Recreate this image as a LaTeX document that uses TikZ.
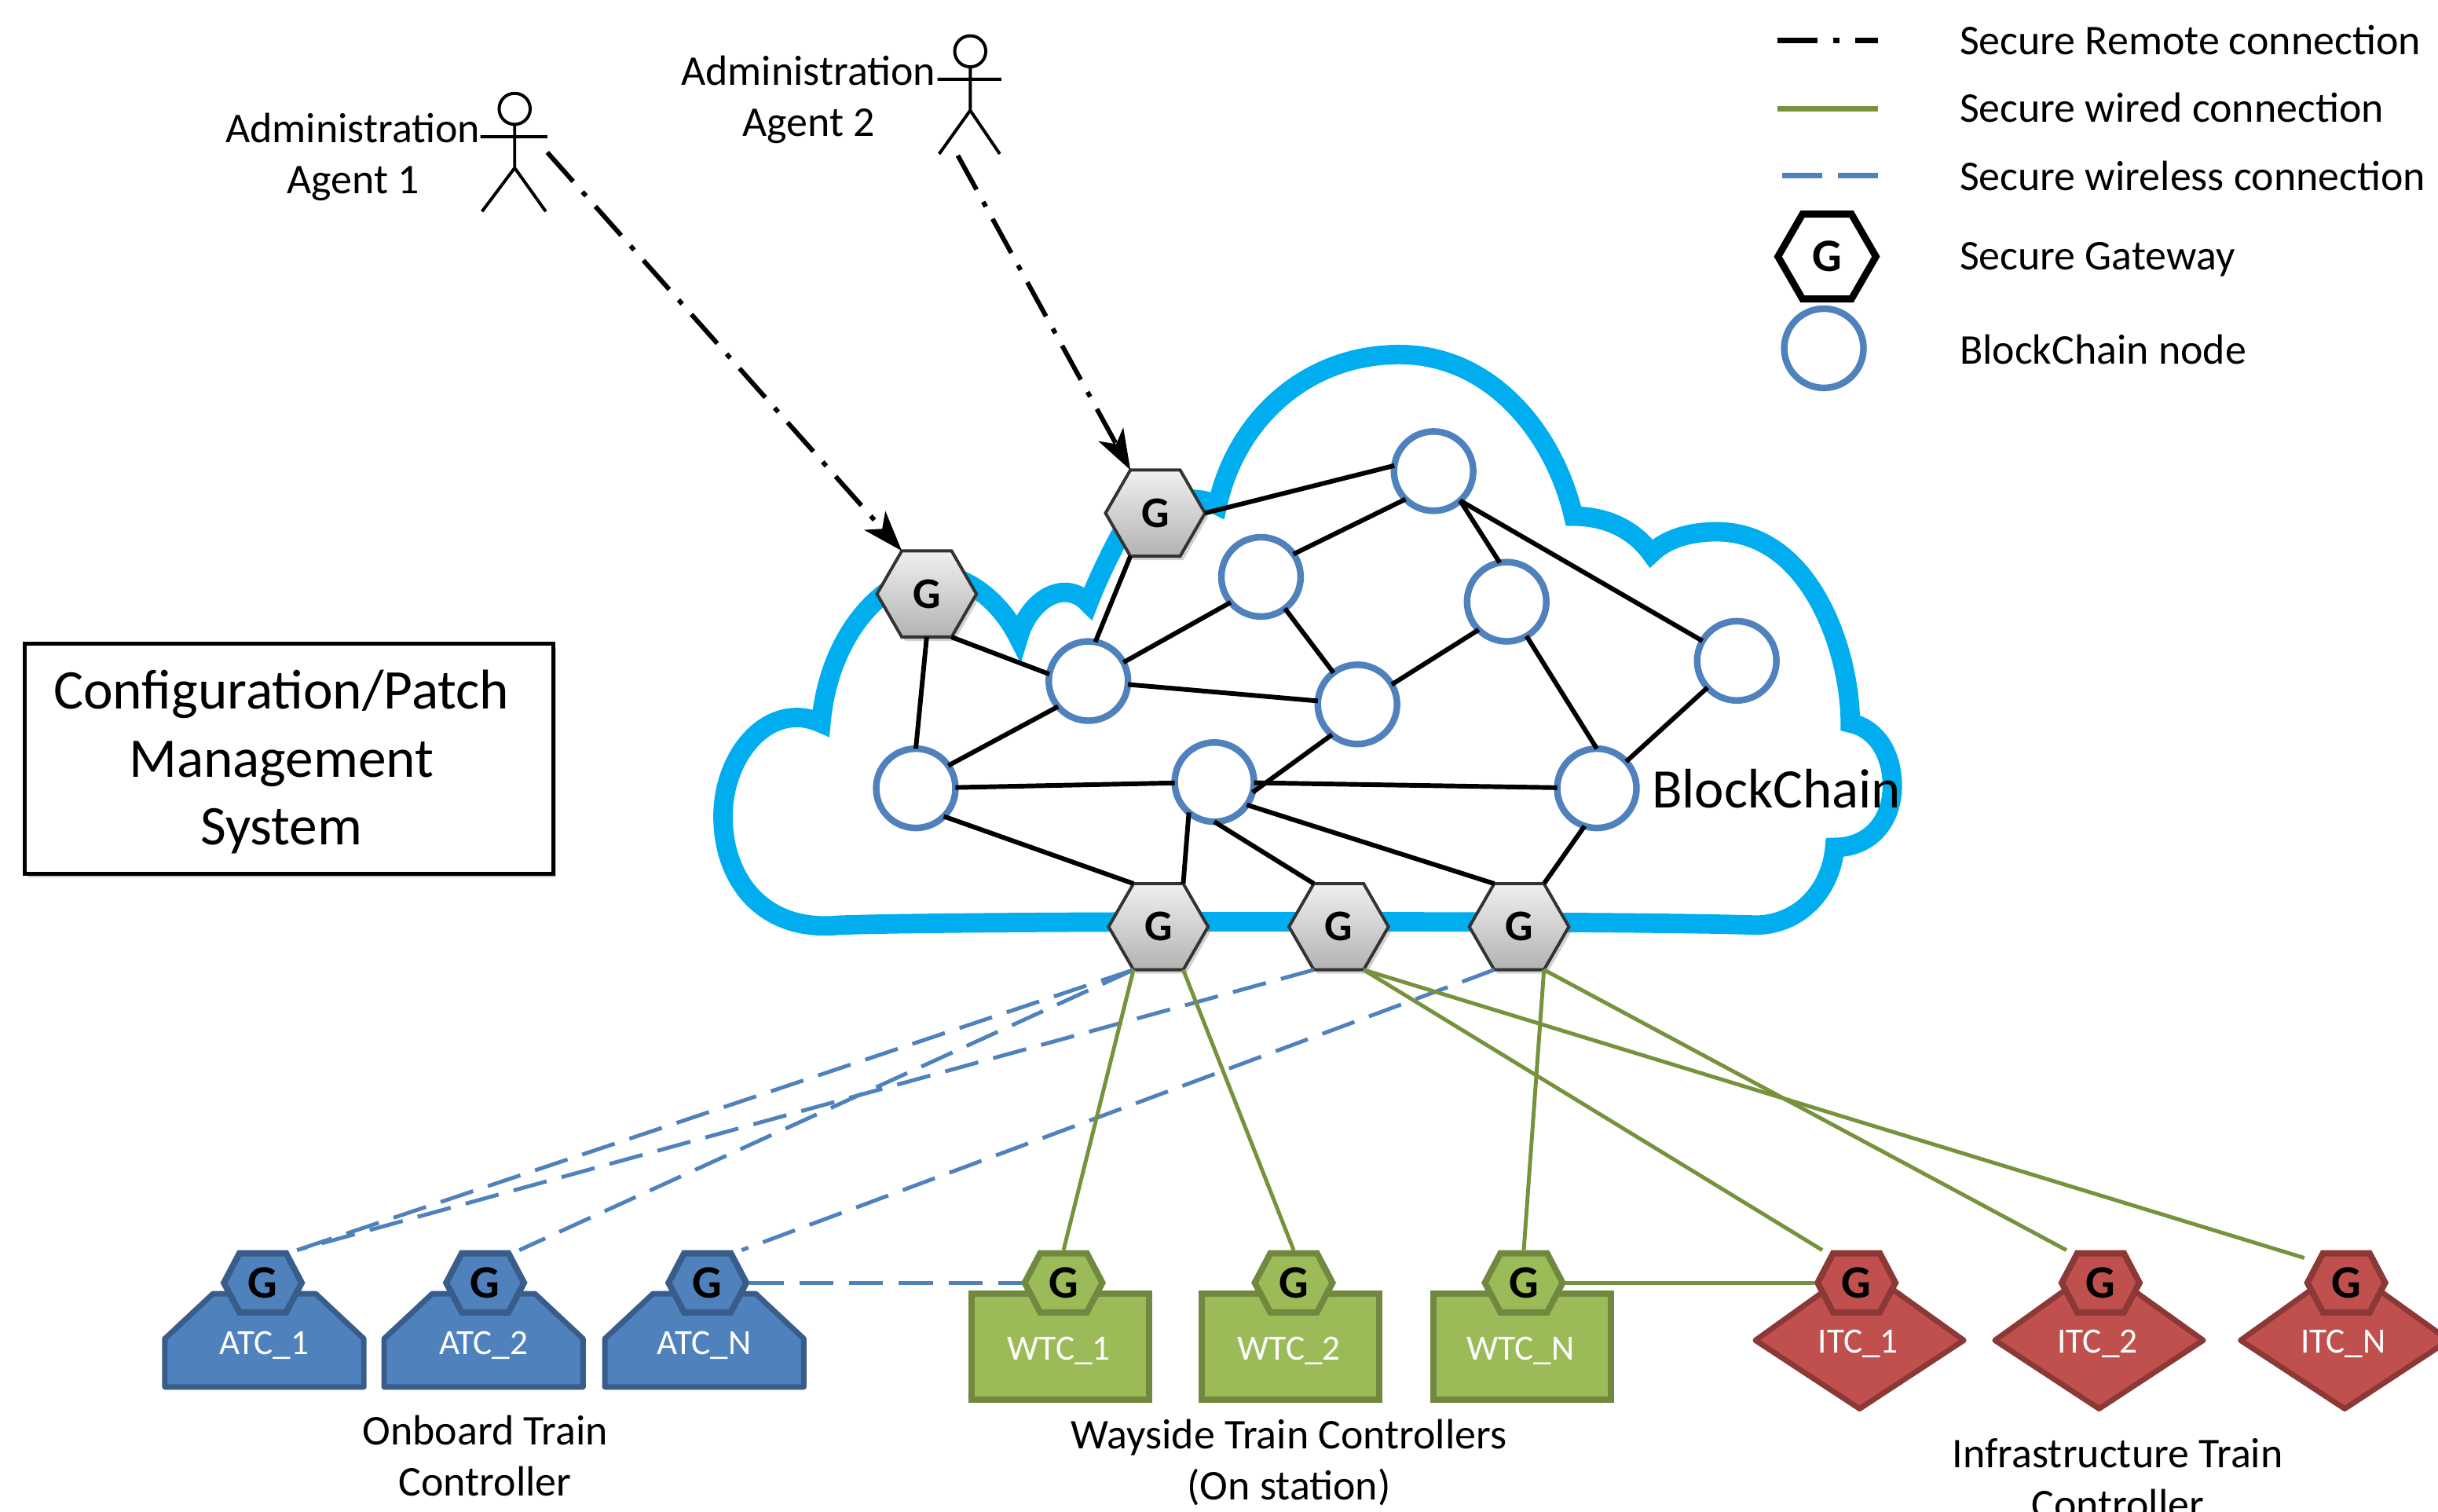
\documentclass[tikz,border=0pt]{standalone}
\usepackage{fontspec}
\setmainfont{Carlito}
\usetikzlibrary{shapes.geometric,shadows,arrows.meta}
\definecolor{cloudblue}{HTML}{00AEEF}
\definecolor{bnblue}{HTML}{4F81BD}
\definecolor{atcdark}{HTML}{385D8A}
\definecolor{wgreen}{HTML}{9BBB59}
\definecolor{wdark}{HTML}{71893F}
\definecolor{wire}{HTML}{76923C}
\definecolor{ired}{HTML}{C0504D}
\definecolor{idark}{HTML}{8C3836}
\tikzset{
  px/.style={x=0.02cm,y=-0.02cm},
  cloudline/.style={draw=cloudblue,line width=0.25cm,miter limit=6},
  bnode/.style={circle,draw=bnblue,fill=white,line width=0.085cm,minimum size=1.02cm,inner sep=0pt,outer sep=0pt},
  hexshape/.style={regular polygon,regular polygon sides=6,minimum size=1.28cm,inner sep=0pt,outer sep=0pt},
  gway/.style={hexshape,draw=black!80,line width=0.04cm,top color=black!6,bottom color=black!30,
     font=\fontsize{16}{18}\selectfont\bfseries,drop shadow={shadow xshift=0.04cm,shadow yshift=-0.05cm,opacity=0.35}},
  legendgate/.style={hexshape,draw=black,line width=0.09cm,fill=white,minimum size=1.26cm,font=\fontsize{17}{19}\selectfont\bfseries},
  edge/.style={draw=black,line width=0.06cm},
  remote/.style={draw=black,line width=0.06cm,dash pattern=on 0.5cm off 0.18cm on 0.07cm off 0.18cm,-{Stealth[length=0.52cm,width=0.36cm,inset=0.14cm]}},
  wireless/.style={draw=bnblue,line width=0.05cm,dash pattern=on 0.44cm off 0.2cm},
  wired/.style={draw=wire,line width=0.05cm},
  txt/.style={font=\fontsize{15.5}{18.7}\selectfont,align=center,inner sep=0pt},
  legtxt/.style={txt,anchor=west},
  actor/.style={draw=black,line width=0.04cm},
  headc/.style={circle,draw=black,line width=0.04cm,minimum size=0.4cm,inner sep=0pt,outer sep=0pt},
  unitlabel/.style={font=\fontsize{13}{15}\selectfont,text=white,inner sep=0pt},
  cfgbox/.style={rectangle,draw=black,line width=0.05cm,fill=white,minimum width=6.8cm,minimum height=2.96cm,inner sep=0pt,
     drop shadow={shadow xshift=0.03cm,shadow yshift=-0.05cm,opacity=0.4}},
}
% small gateway: name, x, y, fill, stroke
\newcommand{\smallgate}[5]{%
  \draw[fill=#4,draw=#5,line width=0.08cm,line join=miter]
    (#2-25,#3) -- (#2-15,#3-19) -- (#2+15,#3-19) -- (#2+25,#3) -- (#2+15,#3+19) -- (#2-15,#3+19) -- cycle;
  \node[font=\fontsize{17}{19}\selectfont\bfseries,minimum width=1.08cm,minimum height=0.84cm,inner sep=0pt,outer sep=0pt] (#1) at (#2,#3) {G};
}
\newcommand{\atcbody}[3]{% name x-centre label
  \draw[fill=bnblue,draw=atcdark,line width=0.07cm,line join=round]
    (#2-64,892) -- (#2+64,892) -- (#2+64,861) -- (#2+33,832) -- (#2-33,832) -- (#2-64,861) -- cycle;
  \node[unitlabel] (#1) at (#2,865) {#3};
}
\newcommand{\wtcbody}[3]{% name x-centre label
  \draw[fill=wgreen,draw=wdark,line width=0.08cm] (#2-57,832) rectangle (#2+57,900);
  \node[unitlabel] (#1) at (#2-1,869) {#3};
}
\newcommand{\itcbody}[3]{% name x-centre label
  \draw[fill=ired,draw=idark,line width=0.07cm,line join=round]
    (#2-67,862) -- (#2,814) -- (#2+67,862) -- (#2,906) -- cycle;
  \node[unitlabel] (#1) at (#2-1,864) {#3};
}
\begin{document}
\begin{tikzpicture}[px]
\useasboundingbox (0,0) rectangle (1568,972.4);
\clip (0,0) rectangle (1568,972.4);
\fill[white] (0,0) rectangle (1568,972.4);

% cloud
\draw[cloudline]
  (540,595) .. controls (620,592) and (1050,592) .. (1130,595)
  .. controls (1160,594) and (1178,570) .. (1180,545)
  .. controls (1205,545) and (1218,525) .. (1217,503)
  .. controls (1216,482) and (1205,468) .. (1190,465)
  .. controls (1190,420) and (1165,342) .. (1104,342)
  .. controls (1088,342) and (1072,346) .. (1062,356)
  .. controls (1052,342) and (1035,332) .. (1012,332)
  .. controls (1000,280) and (960,228) .. (900,228)
  .. controls (840,228) and (795,270) .. (783,325)
  .. controls (770,318) and (740,318) .. (720,345)
  .. controls (712,360) and (705,375) .. (700,388)
  .. controls (685,372) and (662,385) .. (655,410)
  .. controls (640,380) and (610,362) .. (585,372)
  .. controls (555,385) and (532,420) .. (528,465)
  .. controls (495,450) and (465,485) .. (465,525)
  .. controls (465,565) and (490,600) .. (540,595) -- cycle;

% blockchain nodes
\node[bnode] (n1) at (922,303) {};
\node[bnode] (n2) at (811,371) {};
\node[bnode] (n3) at (969,387) {};
\node[bnode] (n4) at (1117,425) {};
\node[bnode] (n5) at (700,438) {};
\node[bnode] (n6) at (873,453) {};
\node[bnode] (n7) at (589,507) {};
\node[bnode] (n8) at (781,503) {};
\node[bnode] (n9) at (1027,507) {};

% gateways
\node[gway] (g1) at (596,382) {G};
\node[gway] (g2) at (743,330) {G};
\node[gway] (g3) at (745,596) {G};
\node[gway] (g4) at (861,596) {G};
\node[gway] (g5) at (977,596) {G};

% blockchain edges
\draw[edge] (g2.0) -- (n1.172);
\draw[edge] (n1.-135) -- (n2.35);
\draw[edge] (n1.-48) -- (n3.100);
\draw[edge] (n1.-48) -- (n4);
\draw[edge] (g2.-120) -- (n5.80);
\draw[edge] (n2.-140) -- (n5.28);
\draw[edge] (n2) -- (n6);
\draw[edge] (n3.-135) -- (n6.30);
\draw[edge] (n3.-60) -- (n9.90);
\draw[edge] (n4) -- (n9);
\draw[edge] (g1.-60) -- (n5.170);
\draw[edge] (g1.-90) -- (n7.90);
\draw[edge] (n5) -- (n6);
\draw[edge] (n5.-140) -- (n7.35);
\draw[edge] (n7) -- (n8);
\draw[edge] (n8) -- (n9);
\draw[edge] (n6.-130) -- (n8.-15);
\draw[edge] (n7.-45) -- (g3.120);
\draw[edge] (n8.-130) -- (g3.60);
\draw[edge] (n8.-90) -- (g4.120);
\draw[edge] (n8.-35) -- (g5.120);
\draw[edge] (n9.-108) -- (g5.60);

\node[font=\fontsize{20.4}{22}\selectfont,anchor=west,inner sep=0pt] (bclabel) at (1062,507) {BlockChain};

% actors
\node[headc] (h1) at (331,70) {};
\coordinate (h1hip) at (331,108);
\coordinate (h1la) at (309,88);
\coordinate (h1ra) at (352,88);
\coordinate (h1ll) at (310,136);
\coordinate (h1rl) at (351,136);
\coordinate (h1out) at (352,98);
\draw[actor] (h1) -- (h1hip) (h1la) -- (h1ra) (h1ll) -- (h1hip) -- (h1rl);
\node[headc] (h2) at (624,33) {};
\coordinate (h2hip) at (624,71);
\coordinate (h2la) at (603,51);
\coordinate (h2ra) at (644,51);
\coordinate (h2ll) at (604,99);
\coordinate (h2rl) at (643,99);
\coordinate (h2out) at (616,100);
\draw[actor] (h2) -- (h2hip) (h2la) -- (h2ra) (h2ll) -- (h2hip) -- (h2rl);
\node[txt] (a1) at (227,101) {Administration\\Agent 1};
\node[txt] (a2) at (520,64) {Administration\\Agent 2};
\draw[remote] (h1out) -- (g1.120);
\draw[remote] (h2out) -- (g2.120);

% config box
\node[cfgbox] (cfg) at (186,488) {};
\node[font=\fontsize{20.5}{25}\selectfont,align=center,inner sep=0pt] (cfgt) at (181,490) {Configuration/Patch\\Management\\System};

% devices
\atcbody{u1}{170}{ATC\_1}
\atcbody{u2}{311}{ATC\_2}
\atcbody{u3}{453}{ATC\_N}
\smallgate{b1}{169}{825}{bnblue}{atcdark}
\smallgate{b2}{312}{825}{bnblue}{atcdark}
\smallgate{b3}{455}{825}{bnblue}{atcdark}
\wtcbody{w1}{682}{WTC\_1}
\wtcbody{w2}{830}{WTC\_2}
\wtcbody{w3}{979}{WTC\_N}
\smallgate{c1}{684}{825}{wgreen}{wdark}
\smallgate{c2}{832}{825}{wgreen}{wdark}
\smallgate{c3}{980}{825}{wgreen}{wdark}
\itcbody{i1}{1196}{ITC\_1}
\itcbody{i2}{1350}{ITC\_2}
\itcbody{i3}{1508}{ITC\_N}
\smallgate{d1}{1194}{825}{ired}{idark}
\smallgate{d2}{1351}{825}{ired}{idark}
\smallgate{d3}{1509}{825}{ired}{idark}

% wireless
\draw[wireless] (g3.-120) -- ([xshift=-0.1cm]b1.north east);
\draw[wireless] (g4.-120) -- ([xshift=-0.1cm]b1.north east);
\draw[wireless] (g3.-120) -- ([xshift=-0.1cm]b2.north east);
\draw[wireless] (g5.-120) -- ([xshift=-0.1cm]b3.north east);
\draw[wireless] (b3.east) -- (c1.west);
% wired
\draw[wired] (g3.-120) -- (c1.north);
\draw[wired] (g3.-60) -- (c2.north);
\draw[wired] (g5.-60) -- (c3.north);
\draw[wired] (g4.-60) -- ([xshift=0.1cm]d1.north west);
\draw[wired] (g5.-60) -- ([xshift=0.1cm]d2.north west);
\draw[wired] (g4.-60) -- ([yshift=-0.1cm]d3.north west);
\draw[wired] (c3.east) -- (d1.west);

% group labels
\node[txt] (l1) at (312,936.5) {Onboard Train\\Controller};
\node[txt] (l2) at (829,940.5) {Wayside Train Controllers\\(On station)};
\node[txt] (l3) at (1362,951) {Infrastructure Train\\Controller};

% legend
\coordinate (k1a) at (1143,26); \coordinate (k1b) at (1208,26);
\coordinate (k2a) at (1143,70); \coordinate (k2b) at (1208,70);
\coordinate (k3a) at (1146,113); \coordinate (k3b) at (1208,113);
\draw[draw=black,line width=0.07cm,dash pattern=on 0.52cm off 0.2cm on 0.08cm off 0.2cm] (k1a) -- (k1b);
\draw[draw=wire,line width=0.07cm] (k2a) -- (k2b);
\draw[draw=bnblue,line width=0.07cm,dash pattern=on 0.52cm off 0.2cm] (k3a) -- (k3b);
\node[legendgate] (kg) at (1175,165) {G};
\node[bnode] (kn) at (1173,224) {};
\node[legtxt] (t1) at (1260,26) {Secure Remote connection};
\node[legtxt] (t2) at (1260,69) {Secure wired connection};
\node[legtxt] (t3) at (1260,113) {Secure wireless connection};
\node[legtxt] (t4) at (1260,167) {Secure Gateway};
\node[legtxt] (t5) at (1260,225) {BlockChain node};
\end{tikzpicture}
\end{document}
